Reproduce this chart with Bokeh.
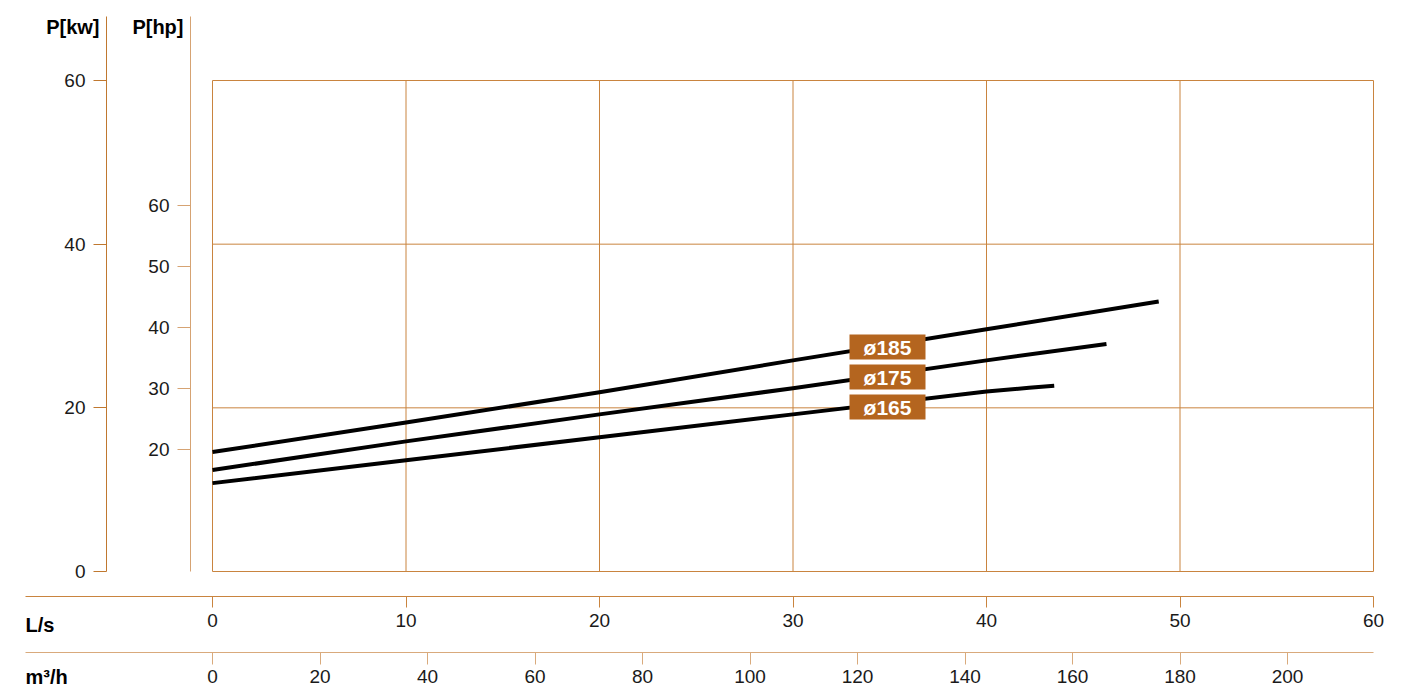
from bokeh.plotting import figure
from bokeh.models import Range1d, LinearAxis, FixedTicker, Label, ColumnDataSource
from bokeh.core.properties import value
from bokeh.embed import file_html
from bokeh.resources import INLINE

# ---------------- data ----------------
flow_ticks_ls = [0, 10, 20, 30, 40, 50, 60]
flow_ticks_m3h = [0, 20, 40, 60, 80, 100, 120, 140, 160, 180, 200]
power_ticks_kw = [0, 20, 40, 60]
power_ticks_hp = [20, 30, 40, 50, 60]

q_185 = [0, 10, 20, 30, 40, 48.9]
p_185 = [14.6, 18.2, 21.9, 25.8, 29.6, 33.0]
q_175 = [0, 10, 20, 30, 40, 46.2]
p_175 = [12.4, 15.9, 19.2, 22.4, 25.8, 27.8]
q_165 = [0, 10, 20, 30, 40, 42.2, 43.5]
p_165 = [10.8, 13.6, 16.4, 19.2, 22.0, 22.45, 22.7]

curve_names = ["ø185", "ø175", "ø165"]

KW_TO_HP = 1.34102
LS_TO_M3H = 3.6

# ---------------- layout helpers (canvas pixel -> data) ----------------
W, H = 1398, 688
PX_PER_LS = 19.35
PX_PER_KW = 8.1833
ORIGIN_X = 212   # canvas px of Q=0
ORIGIN_Y = 571   # canvas px of P=0


def qx(px):
    return (px - ORIGIN_X) / PX_PER_LS


def pk(py):
    return (ORIGIN_Y - py) / PX_PER_KW


X0, X1 = qx(0), qx(W)
Y0, Y1 = pk(H), pk(0)

p = figure(width=W, height=H, x_range=Range1d(X0, X1), y_range=Range1d(Y0, Y1),
           x_axis_type=None, y_axis_type=None, toolbar_location=None,
           output_backend="svg", min_border=0, title=None)
p.outline_line_color = None
p.background_fill_color = "white"
p.border_fill_color = "white"
p.extra_y_ranges = {"hp": Range1d(Y0 * KW_TO_HP, Y1 * KW_TO_HP)}
p.extra_x_ranges = {"m3h": Range1d(X0 * LS_TO_M3H, X1 * LS_TO_M3H)}

GRID = "#C9843F"
TXT = "#1a1a1a"
FONT = "Liberation Sans"

# ---------------- grid / frame ----------------
qmax = flow_ticks_ls[-1]
pmax = power_ticks_kw[-1]
p.segment(x0=flow_ticks_ls, y0=[0] * len(flow_ticks_ls), x1=flow_ticks_ls,
          y1=[pmax] * len(flow_ticks_ls), line_color=GRID, line_width=1)
p.segment(x0=[0] * len(power_ticks_kw), y0=power_ticks_kw, x1=[qmax] * len(power_ticks_kw),
          y1=power_ticks_kw, line_color=GRID, line_width=1)

# ---------------- axes ----------------
def style(ax, color, tick_out, standoff):
    ax.axis_line_color = color
    ax.axis_line_width = 1
    ax.major_tick_line_color = color
    ax.major_tick_line_width = 1
    ax.major_tick_out = tick_out
    ax.major_tick_in = 0
    ax.minor_tick_line_color = None
    ax.major_label_text_font = FONT
    ax.major_label_text_font_size = "19px"
    ax.major_label_text_color = TXT
    ax.major_label_standoff = standoff


kw_axis = LinearAxis(ticker=FixedTicker(ticks=power_ticks_kw), fixed_location=qx(106),
                     bounds=(0, pk(16)))
style(kw_axis, "#C0782F", 13, 8)
p.add_layout(kw_axis, "left")

hp_axis = LinearAxis(y_range_name="hp", ticker=FixedTicker(ticks=power_ticks_hp),
                     fixed_location=qx(190), bounds=(0, pk(16) * KW_TO_HP))
style(hp_axis, "#D6A373", 13, 8)
p.add_layout(hp_axis, "left")

ls_axis = LinearAxis(ticker=FixedTicker(ticks=flow_ticks_ls), fixed_location=pk(596),
                     bounds=(qx(25), qmax))
style(ls_axis, "#C9843F", 11, 6)
p.add_layout(ls_axis, "below")

m3h_axis = LinearAxis(x_range_name="m3h", ticker=FixedTicker(ticks=flow_ticks_m3h),
                      fixed_location=pk(652),
                      bounds=(qx(25) * LS_TO_M3H, qmax * LS_TO_M3H))
style(m3h_axis, "#D9AA7C", 12, 5)
p.add_layout(m3h_axis, "below")

# ---------------- axis titles ----------------
def title(text, x, y, align):
    p.add_layout(Label(x=x, y=y, text=text, text_font=FONT, text_font_size="20px",
                       text_font_style="bold", text_color="black", text_align=align,
                       text_baseline="middle"))


title("P[kw]", qx(99), pk(26), "right")
title("P[hp]", qx(183), pk(26), "right")
title("L/s", qx(25), pk(624), "left")
title("m³/h", qx(25), pk(676), "left")

# ---------------- curves ----------------
for q, pw in [(q_185, p_185), (q_175, p_175), (q_165, p_165)]:
    p.line(q, pw, line_color="black", line_width=4, line_join="round")

# ---------------- curve labels ----------------
lab_x = qx(887)
lab_y = [pk(346.5), pk(376.5), pk(406.5)]
src = ColumnDataSource(dict(x=[lab_x] * 3, y=lab_y, t=curve_names))
p.rect(x="x", y="y", width=76, height=25, width_units="screen", height_units="screen",
       source=src, fill_color="#B4651F", line_color=None)
p.text(x="x", y="y", text="t", source=src, text_color="white", text_font=value(FONT),
       text_font_size="21px", text_font_style="bold", text_align="center",
       text_baseline="middle")

open("out.html", "w").write(file_html(p, INLINE))
